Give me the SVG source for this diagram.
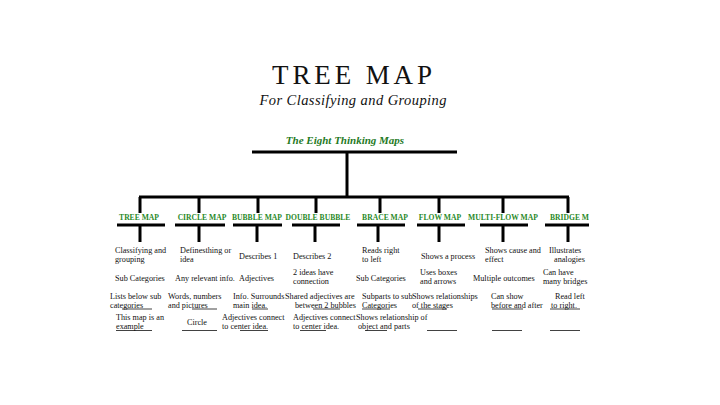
<svg xmlns="http://www.w3.org/2000/svg" width="720" height="405" viewBox="0 0 720 405">
<defs>
<clipPath id="clip"><rect x="0" y="0" width="589" height="405"/></clipPath>
<style>
.t{font-family:"Liberation Serif","DejaVu Serif",serif;font-size:8.2px;fill:#111}
.c{font-family:"Liberation Serif","DejaVu Serif",serif;font-size:7.6px;font-weight:bold;fill:#2a8a2a;text-anchor:middle}
.ln{stroke:#000;stroke-width:3;fill:none}
.ul{stroke:#111;stroke-width:0.8;fill:none}
</style>
</defs>
<rect width="720" height="405" fill="#fff"/>
<g id="title">
<text x="352" y="84" font-family="Liberation Serif, serif" font-size="27" fill="#111" text-anchor="middle" textLength="160" lengthAdjust="spacing">TREE MAP</text>
<text x="353" y="105" font-family="Liberation Serif, serif" font-size="14.5" font-style="italic" fill="#111" text-anchor="middle" textLength="187" lengthAdjust="spacing">For Classifying and Grouping</text>
</g>
<g clip-path="url(#clip)">
<g id="root">
<text x="345" y="144" font-family="Liberation Serif, serif" font-size="11" font-weight="bold" font-style="italic" fill="#1f7a1f" text-anchor="middle">The Eight Thinking Maps</text>
</g>
<g id="connectors">
<line class="ln" x1="252" y1="152" x2="457" y2="152"/>
<line class="ln" x1="347" y1="152" x2="347" y2="197"/>
<line class="ln" x1="139" y1="197" x2="569" y2="197"/>
<path class="ln" d="M140 197V213M199 197V213M258 197V213M316 197V213M380 197V213M439 197V213M503 197V213M568 197V213"/>
<path class="ln" d="M117 225H165M175 225H225M233 225H282M292 225H340M357 225H405M417 225H465M480 225H528M545 225H592"/>
<path class="ln" d="M140 225V242M199 225V242M257 225V242M315 225V242M378 225V242M439 225V242M503 225V242M568 225V242"/>
</g>
<g id="tree-map">
<text class="c" x="139" y="220">TREE MAP</text>
<text class="t" x="115" y="253">Classifying and</text>
<text class="t" x="115" y="262">grouping</text>
<text class="t" x="115" y="281">Sub Categories</text>
<text class="t" x="110" y="299">Lists below sub</text>
<text class="t" x="110" y="307.5">categories</text>
<line class="ul" x1="122" y1="309" x2="152" y2="309"/>
<text class="t" x="116" y="320">This map is an</text>
<text class="t" x="116" y="329">example</text>
<line class="ul" x1="116" y1="330.5" x2="152" y2="330.5"/>
</g>
<g id="circle-map">
<text class="c" x="202" y="220">CIRCLE MAP</text>
<text class="t" x="180" y="253">Definesthing or</text>
<text class="t" x="180" y="262">idea</text>
<text class="t" x="175" y="281">Any relevant info.</text>
<text class="t" x="168" y="299">Words,  numbers</text>
<text class="t" x="168" y="307.5">and pictures</text>
<line class="ul" x1="192" y1="309" x2="217" y2="309"/>
<text class="t" x="187" y="325">Circle</text>
<line class="ul" x1="182" y1="330.5" x2="217" y2="330.5"/>
</g>
<g id="bubble-map">
<text class="c" x="257" y="220">BUBBLE MAP</text>
<text class="t" x="239" y="259">Describes 1</text>
<text class="t" x="239" y="281">Adjectives</text>
<text class="t" x="233" y="299">Info. Surrounds</text>
<text class="t" x="233" y="307.5">main idea.</text>
<line class="ul" x1="252" y1="309" x2="268" y2="309"/>
<text class="t" x="222" y="320">Adjectives connect</text>
<text class="t" x="222" y="329">to center idea.</text>
<line class="ul" x1="240" y1="330.5" x2="268" y2="330.5"/>
</g>
<g id="double-bubble">
<text class="c" x="318" y="220">DOUBLE BUBBLE</text>
<text class="t" x="293" y="259">Describes 2</text>
<text class="t" x="293" y="275">2 ideas have</text>
<text class="t" x="293" y="284">connection</text>
<text class="t" x="285" y="299">Shared adjectives are</text>
<text class="t" x="295" y="307.5">between 2 bubbles</text>
<line class="ul" x1="313" y1="309" x2="340" y2="309"/>
<text class="t" x="293" y="320">Adjectives connect</text>
<text class="t" x="293" y="329">to center idea.</text>
<line class="ul" x1="300" y1="330.5" x2="326" y2="330.5"/>
</g>
<g id="brace-map">
<text class="c" x="385" y="220">BRACE MAP</text>
<text class="t" x="362" y="253">Reads right</text>
<text class="t" x="362" y="262">to left</text>
<text class="t" x="356" y="281">Sub Categories</text>
<text class="t" x="362" y="299">Subparts to sub</text>
<text class="t" x="362" y="307.5">Categories</text>
<line class="ul" x1="362" y1="309" x2="390" y2="309"/>
<text class="t" x="356" y="320">Shows relationship of</text>
<text class="t" x="358" y="329">object and parts</text>
<line class="ul" x1="365" y1="330.5" x2="387" y2="330.5"/>
</g>
<g id="flow-map">
<text class="c" x="440" y="220">FLOW MAP</text>
<text class="t" x="421" y="259">Shows a process</text>
<text class="t" x="420" y="275">Uses boxes</text>
<text class="t" x="420" y="284">and arrows</text>
<text class="t" x="412" y="299">Shows relationships</text>
<text class="t" x="412" y="307.5">of the stages</text>
<line class="ul" x1="418" y1="309" x2="447" y2="309"/>
<line class="ul" x1="427" y1="330.5" x2="457" y2="330.5"/>
</g>
<g id="multi-flow-map">
<text class="c" x="503" y="220">MULTI-FLOW MAP</text>
<text class="t" x="485" y="253">Shows cause and</text>
<text class="t" x="485" y="262">effect</text>
<text class="t" x="473" y="281">Multiple outcomes</text>
<text class="t" x="491" y="299">Can show</text>
<text class="t" x="491" y="307.5">before and after</text>
<line class="ul" x1="492" y1="309" x2="523" y2="309"/>
<line class="ul" x1="492" y1="330.5" x2="522" y2="330.5"/>
</g>
<g id="bridge-map">
<text class="c" x="550" y="220" style="text-anchor:start">BRIDGE MAP</text>
<text class="t" x="549" y="253">Illustrates</text>
<text class="t" x="554" y="262">analogies</text>
<text class="t" x="543" y="275">Can have</text>
<text class="t" x="543" y="284">many bridges</text>
<text class="t" x="555" y="299">Read left</text>
<text class="t" x="551" y="307.5">to right.</text>
<line class="ul" x1="550" y1="309" x2="580" y2="309"/>
<line class="ul" x1="550" y1="330.5" x2="580" y2="330.5"/>
</g>
</g>
</svg>
